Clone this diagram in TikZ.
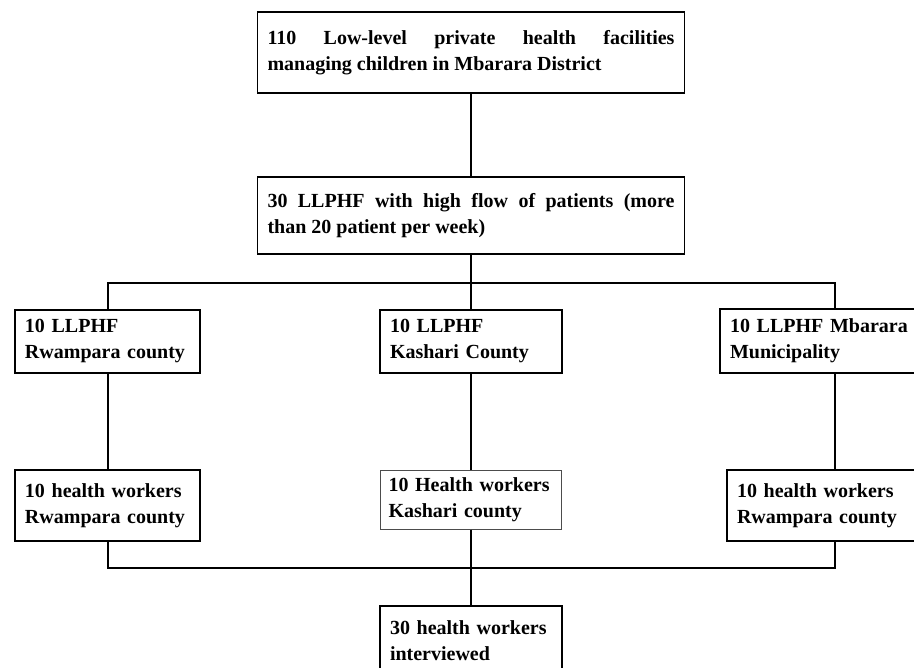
\documentclass[tikz,border=0pt]{standalone}
\usepackage{fontspec}
\setmainfont{Liberation Serif}

\begin{document}
\begin{tikzpicture}
    [x=0.5pt,y=-0.5pt,
      box/.style={draw,line width=0.9pt,inner xsep=5pt,inner ysep=0pt,align=left,
        font=\bfseries\fontsize{10}{13}\selectfont},
      widebox/.style={box,align=justify,text width=203.5pt},
      link/.style={line width=1pt}]

    \useasboundingbox (0,0) rectangle (914,668);

    \node[widebox,minimum height=40.5pt] (top) at (471,52.5)
      {110 Low-level private health facilities\linebreak managing children in Mbarara District};
    \node[widebox,minimum height=38.5pt] (second) at (471,215.5)
      {30 LLPHF with high flow of patients (more\linebreak than 20 patient per week)};

    % three counties
    \node[box,text width=82.5pt,minimum height=31.5pt] (up1) at (107.5,341.5) {10 LLPHF\\Rwampara county};
    \node[box,text width=81pt,minimum height=31.5pt] (up2) at (471,341.5) {10 LLPHF\\Kashari County};
    \node[box,text width=105pt,minimum height=32pt] (up3) at (835,341) {10 LLPHF Mbarara\\Municipality};

    \node[box,text width=82.5pt,minimum height=35.5pt] (low1) at (107.5,505.5) {10 health workers\\Rwampara county};
    \node[box,line width=0.5pt,draw=black!70,inner xsep=4pt,text width=82.5pt,minimum height=29.5pt] (low2) at (471,499.5)
      {10 Health workers\\Kashari county};
    \node[box,text width=98pt,minimum height=35.5pt] (low3) at (835,505.5) {10 health workers\\Rwampara county};

    \node[box,text width=81pt,minimum height=35pt] (final) at (471,641) {30 health workers\\interviewed};

    \coordinate (bus1) at (471,283);
    \coordinate (bus2) at (471,568);

    \draw[link] (top) -- (second);
    \draw[link] (second) -- (up2);
    \draw[link] (up1.north) |- (bus1) -| (up3.north);
    \draw[link] (up1) -- (low1);
    \draw[link] (up2) -- (low2);
    \draw[link] (up3) -- (low3);
    \draw[link] (low1.south) |- (bus2) -| (low3.south);
    \draw[link] (low2) -- (final);

\end{tikzpicture}
\end{document}
